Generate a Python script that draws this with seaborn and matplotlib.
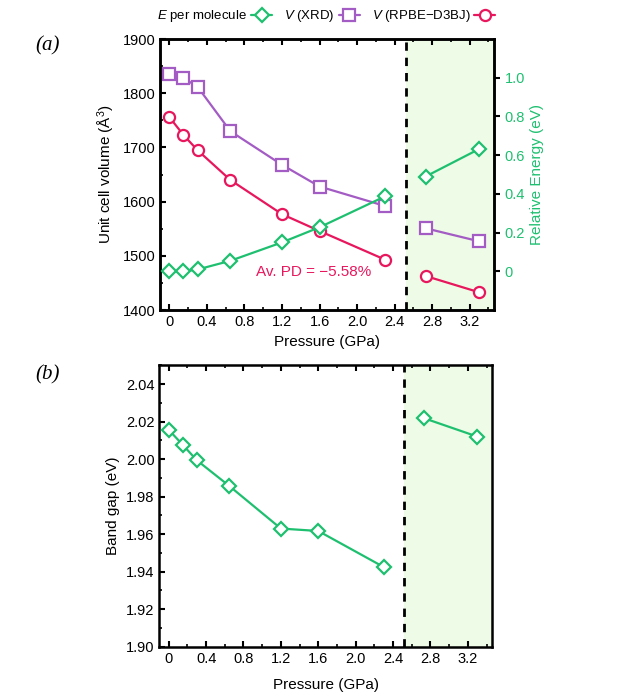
import matplotlib
matplotlib.use("Agg")
import matplotlib.pyplot as plt
import seaborn as sns
import pandas as pd
from matplotlib.lines import Line2D
from matplotlib.ticker import MultipleLocator, FormatStrFormatter

# pressure points (GPa); the last two belong to the high-pressure phase
pressure = [0.0, 0.15, 0.3, 0.65, 1.2, 1.6, 2.3, 2.73, 3.3]
phase = ["low", "low", "low", "low", "low", "low", "low", "high", "high"]

vol_xrd = [1836, 1828, 1812, 1730, 1668, 1628, 1592, 1551, 1527]
vol_rpbe = [1756, 1723, 1695, 1640, 1577, 1546, 1493, 1463, 1433]
rel_energy = [0.0, 0.0, 0.01, 0.055, 0.15, 0.228, 0.388, 0.49, 0.632]
band_gap = [2.0156, 2.0076, 1.9994, 1.9856, 1.963, 1.9617, 1.9425, 2.0218, 2.012]

transition = 2.52

GREEN = "#1ec070"
PURPLE = "#a35cc4"
RED = "#e8175d"
SHADE = "#eefbe6"

sns.set_style("ticks")
plt.rcParams["font.family"] = ["Liberation Sans", "DejaVu Sans"]
plt.rcParams["mathtext.fontset"] = "custom"
plt.rcParams["mathtext.rm"] = "Liberation Sans"
plt.rcParams["mathtext.it"] = "Liberation Sans:italic"
plt.rcParams["axes.linewidth"] = 1.8
plt.rcParams["axes.edgecolor"] = "black"
plt.rcParams["xtick.color"] = "black"
plt.rcParams["ytick.color"] = "black"
plt.rcParams["axes.labelcolor"] = "black"
plt.rcParams["text.color"] = "black"

df = pd.DataFrame({
    "pressure": pressure,
    "phase": phase,
    "vol_xrd": vol_xrd,
    "vol_rpbe": vol_rpbe,
    "energy": rel_energy,
    "gap": band_gap,
})

fig = plt.figure(figsize=(6.4, 6.97), dpi=100)
ax1 = fig.add_axes([0.25, 0.555, 0.522, 0.389])
ax2 = fig.add_axes([0.249, 0.072, 0.52, 0.404])


def draw(ax, col, color, marker, ms):
    for ph in ["low", "high"]:
        sub = df[df["phase"] == ph]
        sns.lineplot(data=sub, x="pressure", y=col, ax=ax, color=color,
                     marker=marker, markersize=ms, markerfacecolor="white",
                     markeredgecolor=color, markeredgewidth=1.6, linewidth=1.6,
                     estimator=None, legend=False, zorder=3)


def style_x(ax, pad):
    ax.set_xlim(-0.1, 3.46)
    ax.xaxis.set_minor_locator(MultipleLocator(0.2))
    ax.set_xticks([0, 0.4, 0.8, 1.2, 1.6, 2.0, 2.4, 2.8, 3.2])
    ax.set_xticklabels(["0", "0.4", "0.8", "1.2", "1.6", "2.0", "2.4", "2.8", "3.2"])
    ax.set_xlabel("Pressure (GPa)", fontsize=11, labelpad=pad)
    ax.axvspan(transition, 3.46, color=SHADE, zorder=0, lw=0)
    ax.axvline(transition, color="black", linestyle=(0, (3, 2.5)), lw=2, zorder=2)


# ---- panel (a)
draw(ax1, "vol_xrd", PURPLE, "s", 8.5)
draw(ax1, "vol_rpbe", RED, "o", 8)
style_x(ax1, 4)
ax1.set_ylim(1400, 1900)
ax1.yaxis.set_major_locator(MultipleLocator(100))
ax1.yaxis.set_minor_locator(MultipleLocator(50))
ax1.set_ylabel("Unit cell volume (Å$^3$)", fontsize=11, labelpad=4)
ax1.tick_params(which="both", direction="in", top=True, right=False, labelsize=10.5)
ax1.tick_params(which="major", length=4, width=1.5)
ax1.tick_params(which="minor", length=2.5, width=1.2)
ax1.text(2.15, 1470, "Av. PD = \u22125.58%", color=RED, fontsize=11, ha="right", va="center")

ax1r = ax1.twinx()
draw(ax1r, "energy", GREEN, "D", 7.5)
ax1r.set_ylim(-0.2, 1.2)
ax1r.set_yticks([0, 0.2, 0.4, 0.6, 0.8, 1.0])
ax1r.set_yticklabels(["0", "0.2", "0.4", "0.6", "0.8", "1.0"])
ax1r.set_ylabel("Relative Energy (eV)", color=GREEN, fontsize=11, labelpad=4)
ax1r.tick_params(axis="y", direction="out", color="black", labelcolor=GREEN,
                 labelsize=10.5, length=4, width=1.5)
ax1r.set_xlim(-0.1, 3.46)

# ---- panel (b)
draw(ax2, "gap", GREEN, "D", 7.5)
style_x(ax2, 9)
ax2.set_ylim(1.90, 2.05)
ax2.set_yticks([1.90, 1.92, 1.94, 1.96, 1.98, 2.00, 2.02, 2.04])
ax2.yaxis.set_minor_locator(MultipleLocator(0.01))
ax2.yaxis.set_major_formatter(FormatStrFormatter("%.2f"))
ax2.set_ylabel("Band gap (eV)", fontsize=11, labelpad=4)
ax2.tick_params(which="both", direction="in", top=True, right=False, labelsize=10.5)
ax2.tick_params(which="major", length=4, width=1.5)
ax2.tick_params(which="minor", length=2.5, width=1.2)

# panel labels
fig.text(0.055, 0.928, "(a)", fontsize=15, family="Liberation Serif", style="italic")
fig.text(0.055, 0.455, "(b)", fontsize=15, family="Liberation Serif", style="italic")

# legend
handles = [
    Line2D([0], [0], color=GREEN, marker="D", markersize=7, markerfacecolor="white",
           markeredgewidth=1.6, lw=1.6),
    Line2D([0], [0], color=PURPLE, marker="s", markersize=8, markerfacecolor="white",
           markeredgewidth=1.6, lw=1.6),
    Line2D([0], [0], color=RED, marker="o", markersize=8, markerfacecolor="white",
           markeredgewidth=1.6, lw=1.6),
]
labels = ["$E$ per molecule", "$V$ (XRD)", "$V$ (RPBE\u2212D3BJ)"]
fig.legend(handles, labels, loc="upper center", bbox_to_anchor=(0.51, 1.005), ncol=3,
           frameon=False, markerfirst=False, fontsize=9.5, handlelength=1.6,
           handletextpad=0.3, columnspacing=0.9)

fig.savefig("out.png", dpi=100)
